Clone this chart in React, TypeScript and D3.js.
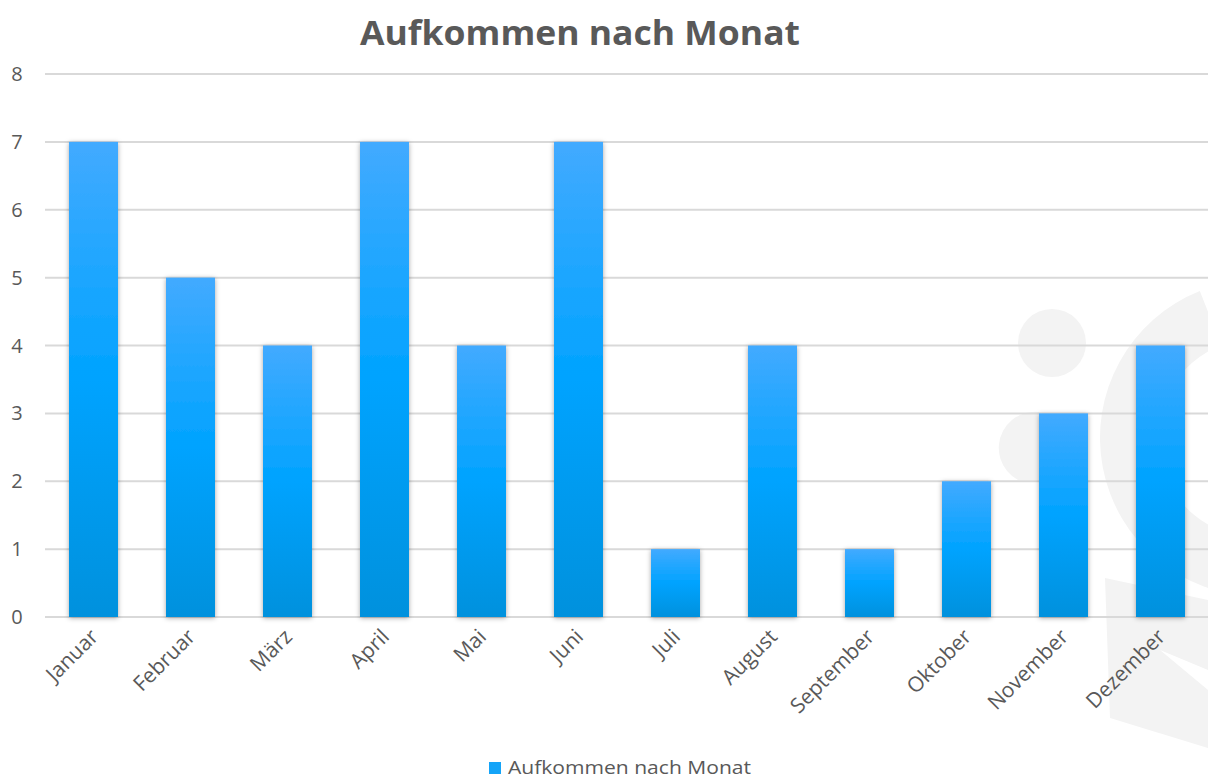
import React, { useEffect, useRef } from 'react';
import * as d3 from 'd3';

const months = ['Januar', 'Februar', 'März', 'April', 'Mai', 'Juni', 'Juli', 'August', 'September', 'Oktober', 'November', 'Dezember'];
const counts = [7, 5, 4, 7, 4, 7, 1, 4, 1, 2, 3, 4];
const yTicks = [0, 1, 2, 3, 4, 5, 6, 7, 8];
const seriesName = 'Aufkommen nach Monat';

const W = 1208;
const H = 778;
const FONT = '"Open Sans", "Noto Sans", sans-serif';

const App = () => {
  const ref = useRef<SVGSVGElement>(null);

  useEffect(() => {
    const svg = d3.select(ref.current);
    svg.selectAll('*').remove();

    const x = d3.scaleBand<string>().domain(months).range([45, 1209]).paddingInner(0.495).paddingOuter(0.2475);
    const y = d3.scaleLinear().domain([0, 8]).range([617, 74]);

    const defs = svg.append('defs');
    const grad = defs.append('linearGradient').attr('id', 'barGrad').attr('x1', 0).attr('y1', 0).attr('x2', 0).attr('y2', 1);
    grad.append('stop').attr('offset', '0%').attr('stop-color', '#42aaff');
    grad.append('stop').attr('offset', '50%').attr('stop-color', '#00a3ff');
    grad.append('stop').attr('offset', '100%').attr('stop-color', '#0391dd');

    const shadow = defs.append('filter').attr('id', 'shadow').attr('x', '-30%').attr('y', '-10%').attr('width', '160%').attr('height', '120%');
    shadow.append('feDropShadow').attr('dx', 0).attr('dy', 1).attr('stdDeviation', 2.5).attr('flood-color', '#000').attr('flood-opacity', 0.35);

    // watermark logo (faint)
    const wm = svg.append('g').attr('fill', '#f3f3f3');
    wm.append('circle').attr('cx', 1052).attr('cy', 343).attr('r', 34);
    wm.append('path').attr('d', 'M1018,480 A34,34 0 0 1 1052,416 L1052,480 Z');
    const ring = d3.arc()({ innerRadius: 100, outerRadius: 158, startAngle: -Math.PI * 0.12, endAngle: -Math.PI * 1.0 } as any);
    wm.append('path').attr('d', ring as string).attr('transform', 'translate(1258,438)');
    wm.append('path').attr('d', 'M1105,578 L1208,600 L1208,670 L1160,650 L1208,690 L1208,748 L1110,718 Z');

    // gridlines
    svg.append('g').selectAll('line').data(yTicks).join('line')
      .attr('x1', 45).attr('x2', W)
      .attr('y1', (d) => y(d)).attr('y2', (d) => y(d))
      .attr('stroke', '#d9d9d9').attr('stroke-width', 2);

    // y labels
    svg.append('g').selectAll('text').data(yTicks).join('text')
      .attr('x', 17).attr('y', (d) => y(d)).attr('dy', '0.35em')
      .attr('text-anchor', 'middle')
      .style('font-family', FONT).style('font-size', '20px').attr('fill', '#595959')
      .text((d) => d);

    // bars
    svg.append('g').selectAll('rect').data(counts).join('rect')
      .attr('x', (_, i) => x(months[i])!)
      .attr('y', (d) => y(d))
      .attr('width', x.bandwidth())
      .attr('height', (d) => y(0) - y(d))
      .attr('fill', 'url(#barGrad)')
      .attr('filter', 'url(#shadow)');

    // x labels
    svg.append('g').selectAll('text').data(months).join('text')
      .attr('transform', (d) => `translate(${x(d)! + x.bandwidth() / 2 + 6},${638}) rotate(-45)`)
      .attr('text-anchor', 'end')
      .style('font-family', FONT).style('font-size', '21px').attr('fill', '#595959')
      .text((d) => d);

    // title
    svg.append('text')
      .attr('x', 580).attr('y', 45)
      .attr('text-anchor', 'middle')
      .attr('textLength', 440).attr('lengthAdjust', 'spacingAndGlyphs')
      .style('font-family', FONT).style('font-size', '34px').style('font-weight', 'bold').attr('fill', '#595959')
      .text(seriesName);

    // legend
    const lg = svg.append('g');
    lg.append('rect').attr('x', 489).attr('y', 762).attr('width', 12).attr('height', 12).attr('fill', '#14a4f8');
    lg.append('text').attr('x', 508).attr('y', 774)
      .style('font-family', FONT).style('font-size', '18px').attr('fill', '#595959')
      .attr('textLength', 243).attr('lengthAdjust', 'spacingAndGlyphs')
      .text(seriesName);
  }, []);

  return <svg ref={ref} width={W} height={H} style={{ position: 'absolute', left: 0, top: 0, background: '#fff' }} />;
};

export default App;
